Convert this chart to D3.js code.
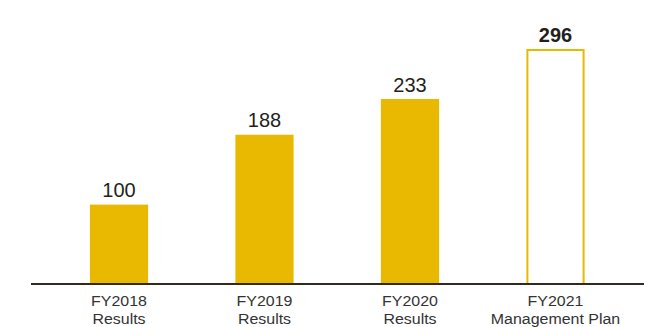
<!DOCTYPE html>
<html>
<head>
<meta charset="utf-8">
<script src="https://cdn.jsdelivr.net/npm/d3@7"></script>
<style>
  body { margin: 0; background: #fff; }
  text { font-family: "Liberation Sans", Arial, sans-serif; fill: #231f20; }
</style>
</head>
<body>
<div id="chart-area"></div>
<script>
// data
var years = ["FY2018", "FY2019", "FY2020", "FY2021"];
var kinds = ["Results", "Results", "Results", "Management Plan"];
var values = [100, 188, 233, 296];
var planned = [false, false, false, true];

var width = 659, height = 327,
  baseY = 284;

var svg = d3.select("#chart-area").append("svg")
  .attr("width", width)
  .attr("height", height);

// ranges
var x = d3.scaleBand()
  .domain(years)
  .range([46.25, 628.25])
  .paddingInner(0.6)
  .paddingOuter(0.3);

var y = d3.scaleLinear()
  .domain([0, 296])
  .range([baseY, 49]);

var data = years.map(function (d, i) {
  return {year: d, kind: kinds[i], value: values[i], plan: planned[i]};
});

function cx(d) { return x(d.year) + x.bandwidth() / 2; }

// bars
svg.selectAll("rect.bar")
  .data(data)
  .enter().append("rect")
  .attr("class", "bar")
  .attr("x", function (d) { return d.plan ? x(d.year) + 1 : x(d.year); })
  .attr("width", function (d) { return d.plan ? x.bandwidth() - 2 : x.bandwidth(); })
  .attr("y", function (d) { return d.plan ? y(d.value) + 1 : y(d.value); })
  .attr("height", function (d) { return d.plan ? baseY - y(d.value) - 1 : baseY - y(d.value); })
  .attr("fill", function (d) { return d.plan ? "#fff" : "#e8b900"; })
  .attr("stroke", function (d) { return d.plan ? "#e8b900" : "none"; })
  .attr("stroke-width", 2);

// value labels
svg.selectAll("text.val")
  .data(data)
  .enter().append("text")
  .attr("class", "val")
  .attr("x", cx)
  .attr("y", function (d) { return y(d.value) - 7.5; })
  .attr("text-anchor", "middle")
  .style("font-size", "20px")
  .style("font-weight", function (d) { return d.plan ? "bold" : "normal"; })
  .text(function (d) { return d.value; });

// baseline
svg.append("line")
  .attr("x1", 31).attr("x2", 644)
  .attr("y1", baseY).attr("y2", baseY)
  .attr("stroke", "#33291f")
  .attr("stroke-width", 2);

// category labels (the original type is set a little wide)
var cat = svg.selectAll("g.cat")
  .data(data)
  .enter().append("g")
  .attr("class", "cat")
  .attr("transform", function (d) { return "translate(" + cx(d) + ",0) scale(1.1,1)"; })
  .append("text")
  .attr("text-anchor", "middle")
  .style("font-size", "14.5px")
  .style("fill", "#333");
cat.append("tspan")
  .attr("x", 0)
  .attr("y", 306.5)
  .text(function (d) { return d.year; });
cat.append("tspan")
  .attr("x", 0)
  .attr("y", 324.5)
  .text(function (d) { return d.kind; });
</script>
</body>
</html>
